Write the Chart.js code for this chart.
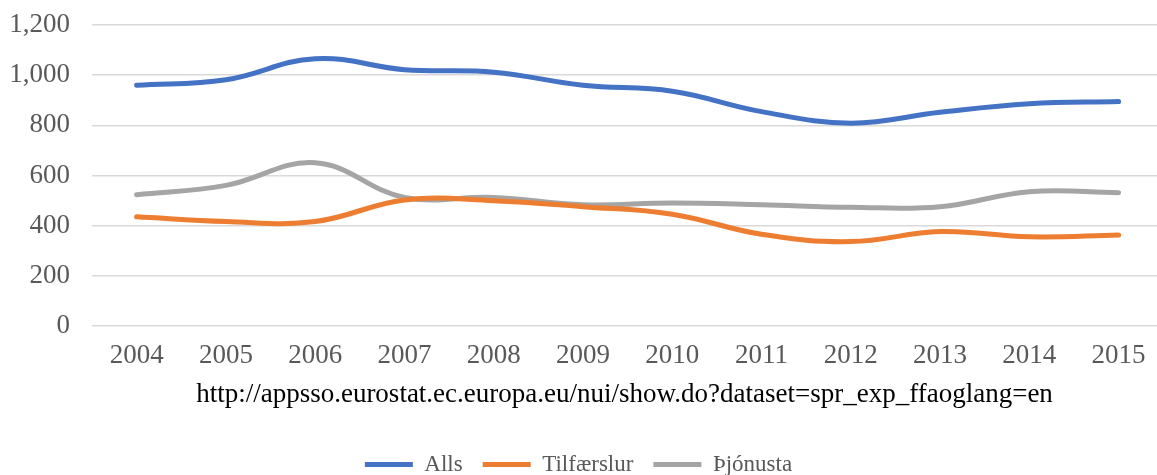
<!DOCTYPE html>
<html>
<head>
<meta charset="utf-8">
<script src="https://cdn.jsdelivr.net/npm/chart.js@4"></script>
<style>
  html, body { margin: 0; padding: 0; background: #fff; }
  #wrap { width: 1157px; height: 475px; }
</style>
</head>
<body>
<div id="wrap"><canvas id="chart"></canvas></div>
<script>
// Data
const years = [2004, 2005, 2006, 2007, 2008, 2009, 2010, 2011, 2012, 2013, 2014, 2015];
const alls = [960, 982, 1066, 1022, 1012, 960, 936, 855, 809, 852, 886, 895];
const tilfaerslur = [436, 417, 417, 503, 500, 476, 446, 366, 337, 377, 356, 363];
const thjonusta = [524, 561, 651, 513, 513, 484, 491, 484, 474, 476, 536, 532];
const yTicks = [0, 200, 400, 600, 800, 1000, 1200];
const sourceText = 'http://appsso.eurostat.ec.europa.eu/nui/show.do?dataset=spr_exp_ffaoglang=en';

const serif = '"Liberation Serif", "Times New Roman", serif';

function series(label, values, color) {
    return {
        label: label,
        data: years.map((y, i) => ({ x: y, y: values[i] })),
        borderColor: color,
        backgroundColor: color,
        borderWidth: 5,
        borderCapStyle: 'round',
        pointRadius: 0,
        pointStyle: 'line',
        tension: 0.4,
        fill: false
    };
}

new Chart(document.getElementById('chart'), {
    type: 'line',
    data: {
        datasets: [
            series('Alls', alls, '#4472C4'),
            series('Tilfærslur', tilfaerslur, '#ED7D31'),
            series('Þjónusta', thjonusta, '#A5A5A5')
        ]
    },
    options: {
        responsive: true,
        maintainAspectRatio: false,
        animation: false,
        layout: { padding: { top: 0, right: 0, left: 0, bottom: -11 } },
        plugins: {
            tooltip: { enabled: false },
            legend: {
                position: 'bottom',
                labels: {
                    usePointStyle: true,
                    pointStyleWidth: 48,
                    boxHeight: 5,
                    padding: 20,
                    color: '#595959',
                    font: { family: serif, size: 23 }
                }
            }
        },
        scales: {
            x: {
                type: 'linear',
                min: 2003.5,
                max: 2015.43,
                afterBuildTicks: axis => {
                    axis.ticks = years.map(y => ({ value: y }));
                },
                grid: { display: false },
                border: { display: false },
                ticks: {
                    color: '#595959',
                    font: { family: serif, size: 27 },
                    padding: 6,
                    maxRotation: 0,
                    autoSkip: false,
                    callback: v => String(v)
                },
                title: {
                    display: true,
                    text: sourceText,
                    color: '#000',
                    font: { family: serif, size: 27 },
                    padding: { top: 0, bottom: 22 }
                }
            },
            y: {
                min: 0,
                max: 1200,
                afterBuildTicks: axis => {
                    axis.ticks = yTicks.map(v => ({ value: v }));
                },
                afterFit: axis => {
                    axis.width = 92;
                    axis.paddingTop = 25;
                    axis.paddingBottom = 0;
                },
                grid: { color: '#D9D9D9', lineWidth: 1.5, drawTicks: false },
                border: { display: false },
                ticks: {
                    color: '#595959',
                    font: { family: serif, size: 27 },
                    padding: 22,
                    callback: v => v.toLocaleString('en-US')
                }
            }
        }
    }
});
</script>
</body>
</html>
